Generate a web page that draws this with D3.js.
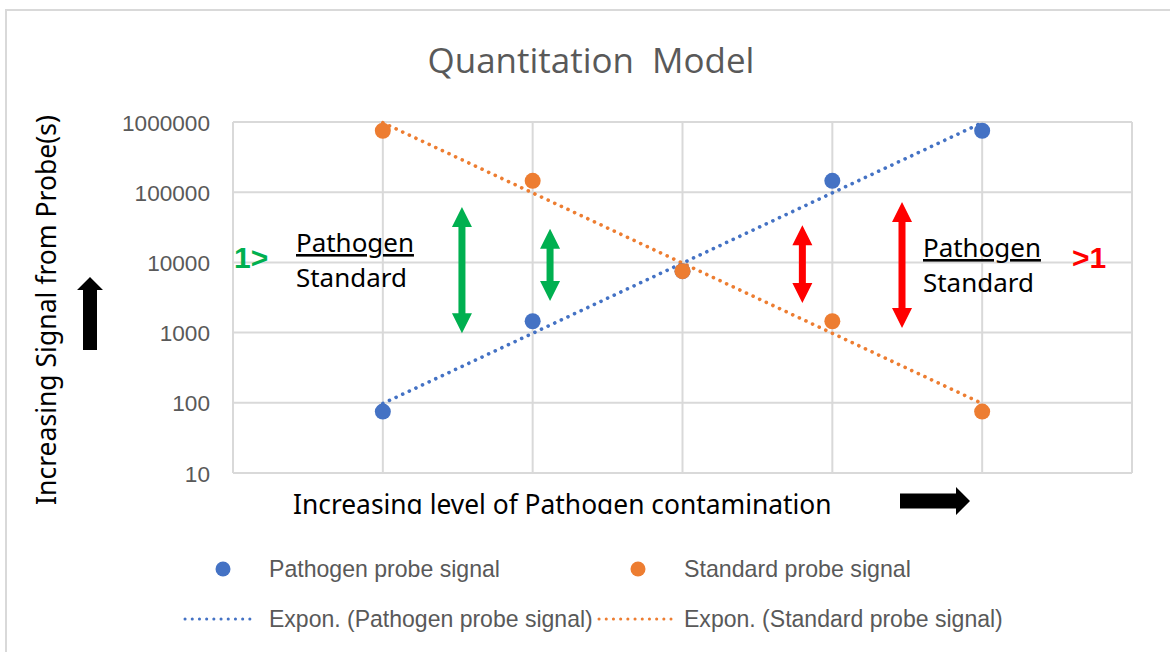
<!DOCTYPE html>
<html>
<head>
<meta charset="utf-8">
<script src="https://cdn.jsdelivr.net/npm/d3@7"></script>
<style>
	body { margin: 0; background: #fff; }
</style>
</head>
<body>
<div id="chart"></div>
<script>

/* Datos */
var levels = [1, 2, 3, 4, 5];
var pathogenSignal = [75, 1450, 7500, 145000, 750000];
var standardSignal = [750000, 145000, 7500, 1450, 75];
var yTicks = [10, 100, 1000, 10000, 100000, 1000000];
var xGrid = [0, 1, 2, 3, 4, 5, 6];
var legendNames = ["Pathogen probe signal", "Standard probe signal",
	"Expon. (Pathogen probe signal)", "Expon. (Standard probe signal)"];

var blue = "#4472C4", orange = "#ED7D31", green = "#00B050", red = "#FF0000";
var grid = "#d9d9d9", gray = "#595959";

var width = 1170, height = 652;
var margin = { top: 122, right: 38, bottom: 179, left: 233 };

var svg = d3.select("#chart").append("svg")
	.attr("width", width)
	.attr("height", height);

/* borde del área del gráfico */
svg.append("rect")
	.attr("x", 6).attr("y", 10)
	.attr("width", 1200).attr("height", 700)
	.attr("fill", "none")
	.attr("stroke", grid)
	.attr("stroke-width", 2);

var x = d3.scaleLinear().domain([0, 6]).range([margin.left, width - margin.right]);
var y = d3.scaleLog().domain([10, 1000000]).range([height - margin.bottom, margin.top]);

function fitText(sel, target) {
	var w = sel.node().getComputedTextLength();
	var fs = parseFloat(sel.attr("font-size"));
	sel.attr("font-size", fs * target / w);
	return sel;
}

/* regresión exponencial (como la línea de tendencia de Excel) */
function expFit(xs, ys) {
	var lx = d3.mean(xs), ly = d3.mean(ys, function (v) { return Math.log(v); });
	var num = 0, den = 0;
	for (var i = 0; i < xs.length; i++) {
		num += (xs[i] - lx) * (Math.log(ys[i]) - ly);
		den += (xs[i] - lx) * (xs[i] - lx);
	}
	var b = num / den, a = ly - b * lx;
	return function (v) { return Math.exp(a + b * v); };
}

// rejilla
svg.append("g").selectAll("line.h")
	.data(yTicks).enter().append("line")
	.attr("x1", x(0)).attr("x2", x(6))
	.attr("y1", function (d) { return y(d); })
	.attr("y2", function (d) { return y(d); })
	.attr("stroke", grid).attr("stroke-width", 2);

svg.append("g").selectAll("line.v")
	.data(xGrid).enter().append("line")
	.attr("y1", y(10)).attr("y2", y(1000000))
	.attr("x1", function (d) { return x(d); })
	.attr("x2", function (d) { return x(d); })
	.attr("stroke", grid).attr("stroke-width", 2);

// eje y
var yAxis = svg.append("g")
	.attr("transform", "translate(" + (x(0) - 23) + ",0)")
	.call(d3.axisLeft(y).tickValues(yTicks).tickFormat(d3.format("d")).tickSize(0).tickPadding(0));
yAxis.select(".domain").remove();
yAxis.selectAll("text")
	.attr("fill", gray)
	.attr("font-family", "'Liberation Sans', Arial, sans-serif")
	.attr("font-size", 22.6)
	.attr("dy", "0.36em");

// líneas de tendencia
var line = d3.line()
	.x(function (d) { return x(d[0]); })
	.y(function (d) { return y(d[1]); });

var series = [
	{ values: pathogenSignal, color: blue },
	{ values: standardSignal, color: orange }
];

series.forEach(function (s) {
	var f = expFit(levels, s.values);
	var pts = [[levels[0], f(levels[0])], [levels[levels.length - 1], f(levels[levels.length - 1])]];
	svg.append("path")
		.attr("d", line(pts))
		.attr("fill", "none")
		.attr("stroke", s.color)
		.attr("stroke-width", 3.6)
		.attr("stroke-linecap", "round")
		.attr("stroke-dasharray", "0.1,7.2");
});

series.forEach(function (s) {
	svg.append("g").selectAll("circle")
		.data(s.values).enter().append("circle")
		.attr("cx", function (d, i) { return x(levels[i]); })
		.attr("cy", function (d) { return y(d); })
		.attr("r", 8)
		.attr("fill", s.color);
});

// título
var title = svg.append("text")
	.attr("x", 591).attr("y", 73)
	.attr("text-anchor", "middle")
	.attr("fill", gray)
	.attr("font-family", "'Open Sans', sans-serif")
	.attr("font-size", 30)
	.attr("xml:space", "preserve")
	.text("Quantitation  Model");
fitText(title, 327);

// título eje y
var yLabel = svg.append("text")
	.attr("transform", "translate(56,310) rotate(-90)")
	.attr("text-anchor", "middle")
	.attr("fill", "#000")
	.attr("font-family", "'Noto Sans', sans-serif")
	.attr("font-size", 24)
	.text("Increasing Signal from Probe(s)");
fitText(yLabel, 390);

// título eje x (recortado por abajo como en el original)
svg.append("clipPath").attr("id", "xclip")
	.append("rect").attr("x", 0).attr("y", 480).attr("width", width).attr("height", 34);
var xLabel = svg.append("text")
	.attr("x", 293).attr("y", 514)
	.attr("clip-path", "url(#xclip)")
	.attr("fill", "#000")
	.attr("font-family", "'Noto Sans', sans-serif")
	.attr("font-size", 25)
	.text("Increasing level of Pathogen contamination");
fitText(xLabel, 539);

// flechas negras de bloque
function blockArrow(x0, y0, len, shaft, head, headLen, rot) {
	var p = [[0, -shaft / 2], [len - headLen, -shaft / 2], [len - headLen, -head / 2], [len, 0],
		[len - headLen, head / 2], [len - headLen, shaft / 2], [0, shaft / 2]];
	svg.append("path")
		.attr("d", "M" + p.join("L") + "Z")
		.attr("transform", "translate(" + x0 + "," + y0 + ") rotate(" + rot + ")")
		.attr("fill", "#000");
}
blockArrow(90, 350, 73, 14, 26, 13, -90);
blockArrow(900, 501, 70, 15, 28, 14, 0);

// flechas dobles de color (en unidades del gráfico)
var doubleArrows = [
	{ lx: 1.528, lo: Math.pow(10, 2.99), hi: Math.pow(10, 4.79), color: green },
	{ lx: 2.116, lo: Math.pow(10, 3.45), hi: Math.pow(10, 4.48), color: green },
	{ lx: 3.80, lo: Math.pow(10, 3.42), hi: Math.pow(10, 4.53), color: red },
	{ lx: 4.465, lo: Math.pow(10, 3.065), hi: Math.pow(10, 4.86), color: red }
];

doubleArrows.forEach(function (a) {
	var cx = x(a.lx), top = y(a.hi), bot = y(a.lo);
	var hw = 10, hl = 20, sw = 3.5;
	var d = "M" + cx + "," + top +
		"L" + (cx + hw) + "," + (top + hl) +
		"L" + (cx + sw) + "," + (top + hl) +
		"L" + (cx + sw) + "," + (bot - hl) +
		"L" + (cx + hw) + "," + (bot - hl) +
		"L" + cx + "," + bot +
		"L" + (cx - hw) + "," + (bot - hl) +
		"L" + (cx - sw) + "," + (bot - hl) +
		"L" + (cx - sw) + "," + (top + hl) +
		"L" + (cx - hw) + "," + (top + hl) + "Z";
	svg.append("path").attr("d", d).attr("fill", a.color);
});

// textos de ratio
function ratioText(x0, y0) {
	var t1 = svg.append("text")
		.attr("x", x0).attr("y", y0)
		.attr("font-family", "'Noto Sans', sans-serif")
		.attr("font-size", 26)
		.attr("fill", "#000")
		.style("text-decoration", "underline")
		.text("Pathogen");
	fitText(t1, 118);
	var t2 = svg.append("text")
		.attr("x", x0).attr("y", y0 + 35)
		.attr("font-family", "'Noto Sans', sans-serif")
		.attr("font-size", t1.attr("font-size"))
		.attr("fill", "#000")
		.text("Standard");
}
ratioText(296, 252);
ratioText(923, 257);

svg.append("text")
	.attr("x", 234).attr("y", 268)
	.attr("font-family", "'Liberation Sans', Arial, sans-serif")
	.attr("font-weight", "bold")
	.attr("font-size", 30)
	.attr("fill", green)
	.text("1>");
svg.append("text")
	.attr("x", 1072).attr("y", 268)
	.attr("font-family", "'Liberation Sans', Arial, sans-serif")
	.attr("font-weight", "bold")
	.attr("font-size", 30)
	.attr("fill", red)
	.text(">1");

// leyenda
var legend = [
	{ name: legendNames[0], kind: "dot", color: blue, mx: 223, tx: 269, ty: 569, w: 231 },
	{ name: legendNames[1], kind: "dot", color: orange, mx: 638, tx: 684, ty: 569, w: 227 },
	{ name: legendNames[2], kind: "line", color: blue, mx: 185, tx: 269, ty: 619, w: 324 },
	{ name: legendNames[3], kind: "line", color: orange, mx: 599, tx: 684, ty: 619, w: 319 }
];

legend.forEach(function (l) {
	if (l.kind === "dot") {
		svg.append("circle").attr("cx", l.mx).attr("cy", l.ty).attr("r", 7.5).attr("fill", l.color);
	} else {
		svg.append("line")
			.attr("x1", l.mx).attr("x2", l.mx + 72)
			.attr("y1", l.ty).attr("y2", l.ty)
			.attr("stroke", l.color)
			.attr("stroke-width", 3)
			.attr("stroke-linecap", "round")
			.attr("stroke-dasharray", "0.1,7.1");
	}
	var t = svg.append("text")
		.attr("x", l.tx).attr("y", l.ty)
		.attr("dy", "0.35em")
		.attr("fill", gray)
		.attr("font-family", "'Liberation Sans', Arial, sans-serif")
		.attr("font-size", 22)
		.text(l.name);
	fitText(t, l.w);
});

</script>
</body>
</html>
